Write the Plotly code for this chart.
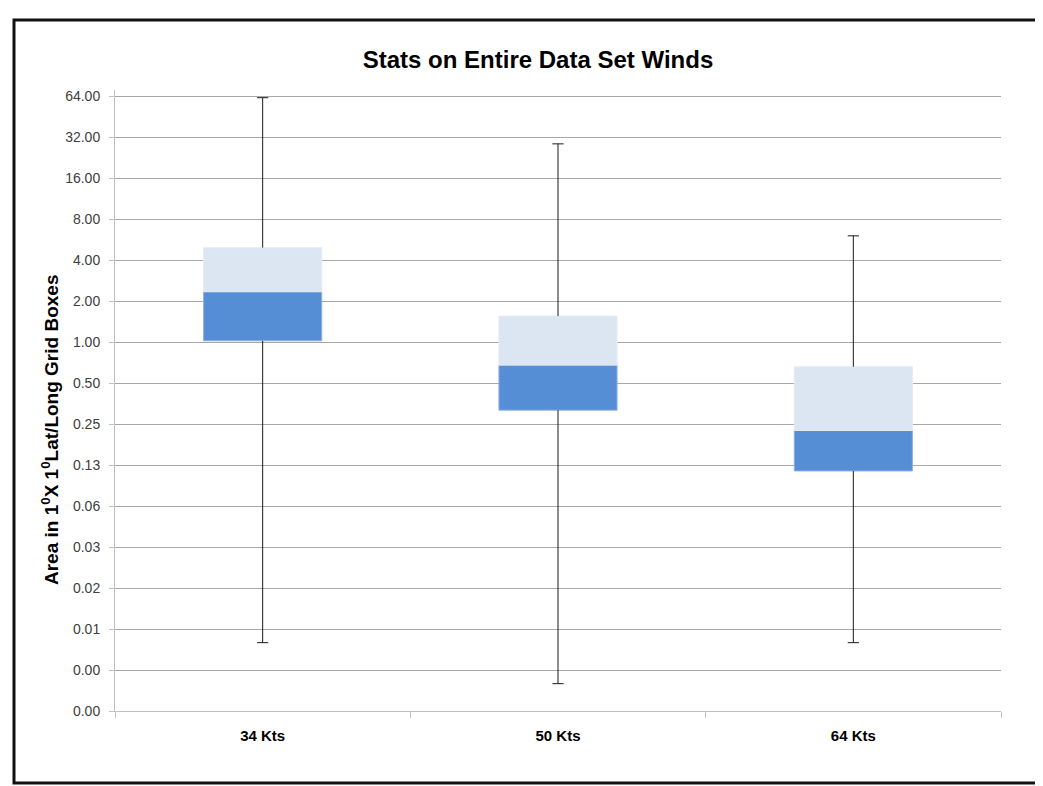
import plotly.graph_objects as go

categories = ["34 Kts", "50 Kts", "64 Kts"]
q1 = [1.02, 0.316, 0.113]
median = [2.34, 0.677, 0.224]
q3 = [4.93, 1.55, 0.658]
wmin = [0.0062, 0.0031, 0.0062]
wmax = [62.2, 28.5, 6.02]

tick_vals = [2.0 ** k for k in range(6, -10, -1)]
tick_text = ["64.00", "32.00", "16.00", "8.00", "4.00", "2.00", "1.00", "0.50",
             "0.25", "0.13", "0.06", "0.03", "0.02", "0.01", "0.00", "0.00"]

FONT = "Liberation Sans"
OFF = 8  # page body offset
W, H = 1043 - OFF, 786 - OFF
L, R, T, B = 115 - OFF, 42, 90 - OFF, 75
pw, ph = W - L - R, H - T - B

fig = go.Figure()

# whisker segments (outside boxes)
wx, wy = [], []
for c, a, b, lo, hi in zip(categories, q1, q3, wmin, wmax):
    wx += [c, c, None, c, c, None]
    wy += [b, hi, None, a, lo, None]
fig.add_trace(go.Scatter(x=wx, y=wy, mode="lines", line=dict(color="#1a1a1a", width=1),
                         hoverinfo="skip", showlegend=False))
fig.add_trace(go.Scatter(x=categories + categories, y=wmax + wmin, mode="markers",
                         marker=dict(symbol="line-ew", size=8,
                                     line=dict(color="#1a1a1a", width=1)),
                         hoverinfo="skip", showlegend=False))

# lower box (Q1 -> median)
fig.add_trace(go.Bar(x=categories, y=[m - a for m, a in zip(median, q1)], base=q1,
                     width=0.4, marker=dict(color="#558ED5", line=dict(color="#8FB0DF", width=1)),
                     showlegend=False))
# upper box (median -> Q3)
fig.add_trace(go.Bar(x=categories, y=[b - m for b, m in zip(q3, median)], base=median,
                     width=0.4, marker=dict(color="#DCE6F2", line=dict(color="#E4EBF5", width=1)),
                     showlegend=False))

y0 = -9 * 0.30103
y1 = (6 + 6 / 40.95) * 0.30103

fig.update_layout(
    width=W, height=H,
    margin=dict(l=L, r=R, t=T, b=B),
    paper_bgcolor="white", plot_bgcolor="white",
    barmode="overlay",
    title=dict(text="<b>Stats on Entire Data Set Winds</b>",
               font=dict(family=FONT, size=24, color="#000000"),
               x=(538 - OFF) / W, xanchor="center",
               y=1 - (60 - OFF) / H, yanchor="middle", yref="container"),
    font=dict(family=FONT),
    xaxis=dict(type="category", tickson="boundaries", ticks="outside", ticklen=6,
               tickcolor="#c0c0c0", showline=True, linecolor="#c0c0c0", linewidth=1,
               showgrid=False,
               tickfont=dict(family=FONT, size=15, color="#000000", weight="bold"),
               ticklabelstandoff=11),
    yaxis=dict(type="log", range=[y0, y1], tickvals=tick_vals, ticktext=tick_text,
               showgrid=True, gridcolor="#a8a8a8", gridwidth=1,
               showline=True, linecolor="#c0c0c0", linewidth=1,
               ticks="outside", ticklen=5, tickcolor="#c0c0c0",
               tickfont=dict(family=FONT, size=14, color="#404040"),
               ticklabelstandoff=6,
               zeroline=False),
    bargap=0.6,
    annotations=[dict(text="<b>Area in 1<sup>0</sup>X 1<sup>0</sup>Lat/Long Grid Boxes</b>",
                      textangle=-90, xref="paper", yref="paper",
                      x=(50 - OFF - L) / pw, y=(711 - 430) / ph,
                      xanchor="center", yanchor="middle", showarrow=False,
                      font=dict(family=FONT, size=19, color="#000000"))],
)

fig.add_shape(type="rect", xref="paper", yref="paper",
              x0=(14 - OFF - L) / pw, x1=(1060 - OFF - L) / pw,
              y0=(H - B - (783 - OFF)) / ph, y1=(H - B - (20 - OFF)) / ph,
              line=dict(color="#111111", width=3), fillcolor="rgba(0,0,0,0)", layer="above")

fig.write_html("out.html")
